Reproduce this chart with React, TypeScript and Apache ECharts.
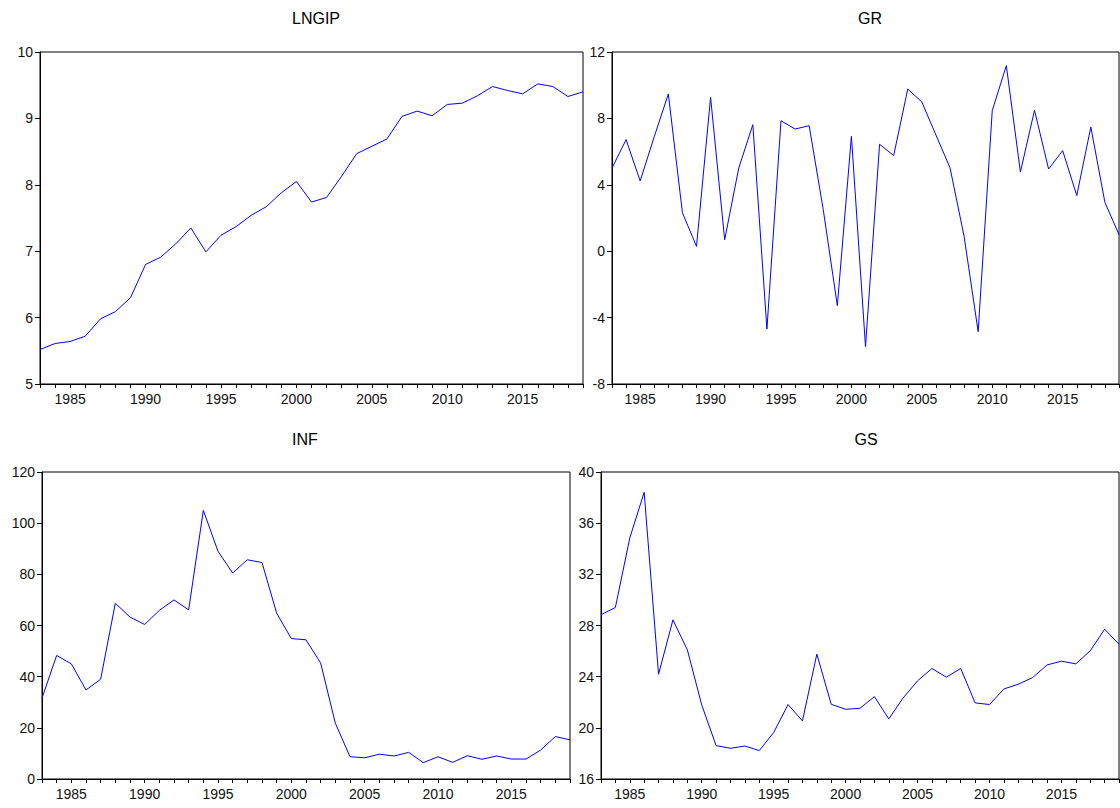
import React, { useEffect, useRef } from "react";
import * as echarts from "echarts";

const years: string[] = [];
for (let y = 1983; y <= 2019; y++) years.push(String(y));

const lngip = [5.52, 5.61, 5.64, 5.72, 5.98, 6.09, 6.30, 6.80, 6.91, 7.11, 7.35, 6.99, 7.24, 7.37, 7.54, 7.67, 7.88, 8.05,
  7.74, 7.81, 8.13, 8.47, 8.58, 8.69, 9.03, 9.11, 9.04, 9.21, 9.23, 9.34, 9.48, 9.42, 9.37, 9.52, 9.48, 9.33, 9.40];

const gr = [5.01, 6.72, 4.23, 6.9, 9.47, 2.32, 0.29, 9.27, 0.69, 5.01, 7.62, -4.69, 7.86, 7.36, 7.56, 2.5, -3.28, 6.92,
  -5.75, 6.44, 5.76, 9.77, 8.99, 7.0, 5.03, 0.9, -4.85, 8.47, 11.18, 4.77, 8.49, 4.95, 6.06, 3.35, 7.48, 2.94, 1.0];

const inf = [31.6, 48.3, 45.0, 34.8, 39.0, 68.7, 63.3, 60.4, 65.9, 70.0, 66.1, 105.0, 89.0, 80.5, 85.7, 84.6, 64.8, 54.9,
  54.4, 45.3, 21.8, 8.7, 8.3, 9.7, 9.0, 10.4, 6.4, 8.7, 6.5, 9.1, 7.7, 9.0, 7.8, 7.8, 11.3, 16.6, 15.3];

const gs = [28.84, 29.41, 34.84, 38.41, 24.19, 28.44, 26.1, 21.79, 18.61, 18.40, 18.58, 18.22, 19.63, 21.82, 20.54, 25.76, 21.84, 21.45,
  21.53, 22.44, 20.70, 22.34, 23.67, 24.64, 23.96, 24.64, 21.95, 21.82, 23.04, 23.41, 23.93, 24.92, 25.21, 25.0, 26.02, 27.71, 26.54];

const titles = ["LNGIP", "GR", "INF", "GS"];
const seriesData = [lngip, gr, inf, gs];
const yRanges = [
  { min: 5, max: 10, interval: 1 },
  { min: -8, max: 12, interval: 4 },
  { min: 0, max: 120, interval: 20 },
  { min: 16, max: 40, interval: 4 },
];

const grids = [
  { left: 40, top: 52, width: 543, height: 332 },
  { left: 612, top: 52, width: 507, height: 332 },
  { left: 42, top: 472, width: 528, height: 307 },
  { left: 601, top: 472, width: 518, height: 307 },
];
const titlePos = [
  { left: 311, top: 5 },
  { left: 865, top: 5 },
  { left: 300, top: 426 },
  { left: 861, top: 426 },
];

const FONT = "Liberation Sans, Arial, sans-serif";

export default function App() {
  const ref = useRef<HTMLDivElement>(null);
  useEffect(() => {
    if (!ref.current) return;
    const chart = echarts.init(ref.current, null, { renderer: "svg" });
    const option: any = {
      animation: false,
      backgroundColor: "#ffffff",
      title: titles.map((t, i) => ({
        text: t,
        left: titlePos[i].left,
        top: titlePos[i].top,
        textAlign: "center",
        textStyle: { fontFamily: FONT, fontSize: 16, fontWeight: "normal", color: "#000" },
      })),
      grid: grids.map((g) => ({
        ...g,
        show: true,
        borderColor: "#000",
        borderWidth: 1,
        backgroundColor: "transparent",
      })),
      xAxis: grids.map((_, i) => ({
        type: "category",
        gridIndex: i,
        data: years,
        boundaryGap: false,
        axisLine: { show: true, onZero: false, lineStyle: { color: "#000", width: 1 } },
        axisTick: { show: true, interval: 0, length: 4, lineStyle: { color: "#000" } },
        axisLabel: {
          interval: (_idx: number, val: string) => Number(val) % 5 === 0,
          color: "#111",
          fontFamily: FONT,
          fontSize: 14,
          margin: 8,
        },
        splitLine: { show: false },
      })),
      yAxis: grids.map((_, i) => ({
        type: "value",
        gridIndex: i,
        min: yRanges[i].min,
        max: yRanges[i].max,
        interval: yRanges[i].interval,
        axisLine: { show: true, onZero: false, lineStyle: { color: "#000", width: 1 } },
        axisTick: { show: true, length: 5, lineStyle: { color: "#000" } },
        axisLabel: { color: "#111", fontFamily: FONT, fontSize: 14, margin: 7 },
        splitLine: { show: false },
      })),
      series: seriesData.map((d, i) => ({
        type: "line",
        xAxisIndex: i,
        yAxisIndex: i,
        data: d,
        showSymbol: false,
        symbol: "none",
        lineStyle: { color: "#0000ff", width: 1 },
      })),
    };
    chart.setOption(option);
    return () => chart.dispose();
  }, []);
  return (
    <div
      ref={ref}
      style={{ position: "fixed", left: 0, top: 0, width: 1120, height: 808, background: "#fff" }}
    />
  );
}
